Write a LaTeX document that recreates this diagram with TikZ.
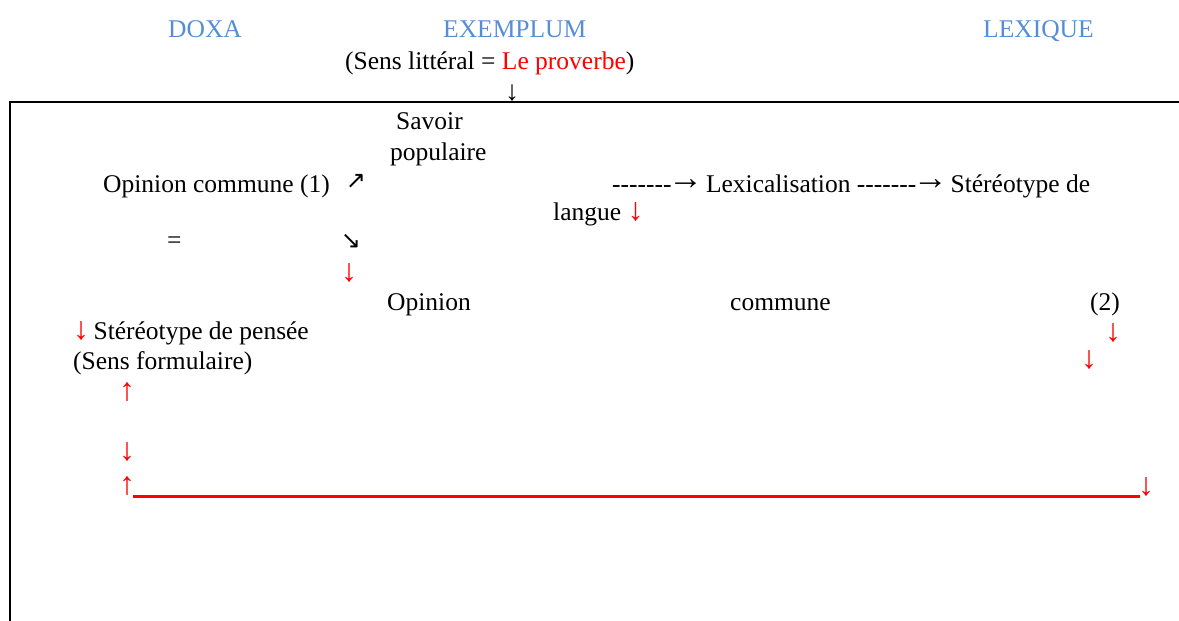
\documentclass[tikz,border=0pt]{standalone}
\usepackage{fontspec}
\setmainfont{Liberation Serif}
\newfontfamily\arrfont{DejaVu Sans}
\definecolor{doxablue}{RGB}{85,142,213}
\definecolor{arred}{RGB}{255,0,0}
\newcommand{\hy}{-\kern0pt}
\newcommand{\dashes}{\hy\hy\hy\hy\hy\hy-}
\newcommand{\rarr}{\kern-3.5pt{\fontsize{35}{35}\selectfont\raisebox{3pt}{→}}\kern-3.5pt}
\newcommand{\bigdown}{{\fontsize{32}{32}\selectfont ↓}}
\begin{document}
\begin{tikzpicture}[x=1pt,y=-1pt,
  txt/.style={anchor=base west,inner sep=0pt,font=\fontsize{25.5}{30}\selectfont},
  arr/.style={anchor=center,inner sep=0pt,font=\fontsize{32}{32}\selectfont},
  head/.style={txt,text=doxablue},
  redarr/.style={arr,text=arred},
  diag/.style={arr,font=\arrfont\fontsize{24}{24}\selectfont}]
\useasboundingbox (0,0) rectangle (1179,621);
% headings
\node[head] (doxa) at (168,37) {DOXA};
\node[head] (exem) at (443,37) {EXEMPLUM};
\node[head] (lex) at (983,37) {LEXIQUE};
\node[txt] (sens) at (345,69) {(Sens littéral = {\color{arred}Le proverbe})};
\node[arr,font=\fontsize{28}{28}\selectfont] (topdown) at (512,93) {↓};
% frame
\coordinate (tl) at (10,102);
\coordinate (tr) at (1179,102);
\coordinate (bl) at (10,621);
\draw[line width=2.2pt] (tr) -- (tl) -- (bl);
% inside
\node[txt] (savoir) at (396,129) {Savoir};
\node[txt] (popul) at (390,160) {populaire};
\node[txt] (op1) at (103,192) {Opinion commune (1)};
\node[diag] (ne) at (356,181) {↗};
\node[txt] (lexline) at (612,192) {\dashes\rarr\ Lexicalisation \dashes\rarr\ Stéréotype de};
\node[txt] (langue) at (553,220) {langue {\color{arred}\bigdown}};
\node[txt] (eq) at (167,248) {=};
\node[diag] (se) at (351,241) {↘};
\node[redarr] (d1) at (349,273) {↓};
\node[txt] (opin) at (387,310) {Opinion};
\node[txt] (comm) at (730,310) {commune};
\node[txt] (two) at (1090,310) {(2)};
\node[redarr] (d2) at (1113,333) {↓};
\node[txt] (stp) at (73,339) {{\color{arred}\bigdown}\kern-2pt\ Stéréotype de pensée};
\node[txt] (formu) at (73,369) {(Sens formulaire)};
\node[redarr] (d3) at (1089,360) {↓};
\node[redarr] (u1) at (127,392) {↑};
\node[redarr] (d4) at (127,452) {↓};
\node[redarr] (u2) at (127,486) {↑};
\node[redarr] (d5) at (1146,487) {↓};
\coordinate (la) at (133,496);
\coordinate (lb) at (1140,496);
\draw[arred,line width=3pt] (la) -- (lb);
\end{tikzpicture}
\end{document}
